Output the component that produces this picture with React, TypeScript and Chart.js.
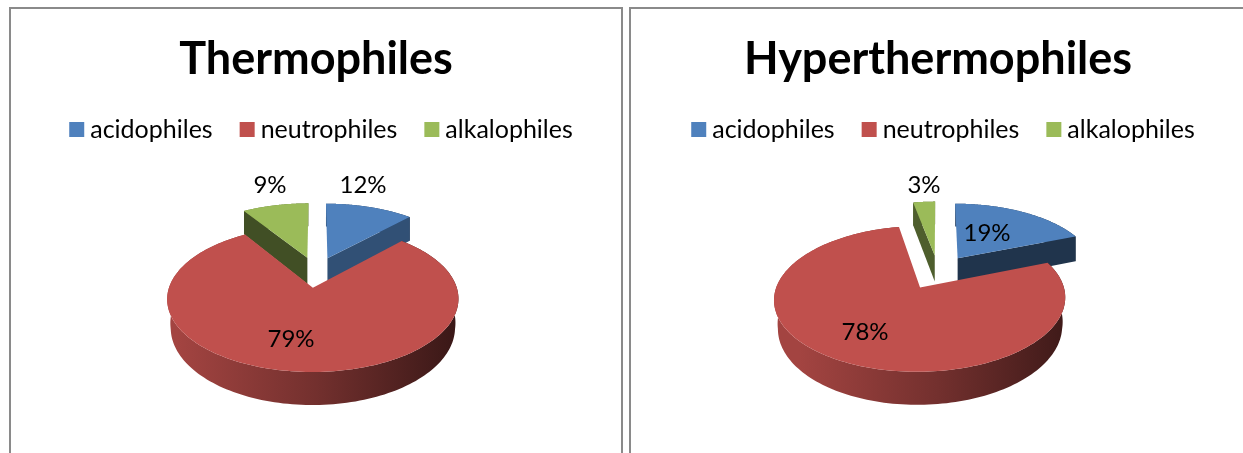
import React, { useEffect, useRef } from "react";
import { Chart, registerables } from "chart.js";

Chart.register(...registerables);

const categories = ["acidophiles", "neutrophiles", "alkalophiles"];
const thermophileShares = [12, 79, 9];
const hyperthermophileShares = [19, 78, 3];
const sliceColors = ["#4f81bd", "#c0504d", "#9bbb59"];

const FONT = "Lato, 'Open Sans', sans-serif";

// Look of the tilted pie: perspective strength, flattening and rim height.
const TILT = { perspective: 0.149, flatten: 0.478, depth: 27, rimNarrow: 0.06 };

type Panel = {
  title: string;
  values: number[];
  left: number;
  width: number;
  explode: number;
  cutShade: number[];
  labelAt: number[][];
};

const panels: Panel[] = [
  {
    title: "Thermophiles",
    values: thermophileShares,
    left: 6,
    width: 620,
    explode: 32,
    cutShade: [0.62, 0.5, 0.42],
    labelAt: [[357, 185], [285, 339], [264, 185]],
  },
  {
    title: "Hyperthermophiles",
    values: hyperthermophileShares,
    left: 633,
    width: 610,
    explode: 36,
    cutShade: [0.4, 0.5, 0.5],
    labelAt: [[354, 233], [232, 332], [291, 185]],
  },
];

function shade(hex: string, f: number) {
  const n = parseInt(hex.slice(1), 16);
  const c = [(n >> 16) & 255, (n >> 8) & 255, n & 255].map((v) => Math.round(v * f));
  return `rgb(${c[0]},${c[1]},${c[2]})`;
}

// Draws the doughnut controller's arc elements as an exploded pie seen from above.
function tiltedPie(panel: Panel) {
  return {
    id: "tiltedPie",
    beforeDatasetsDraw(chart: any) {
      const ctx = chart.ctx as CanvasRenderingContext2D;
      const arcs = chart.getDatasetMeta(0).data as any[];
      const { perspective, flatten, depth, rimNarrow } = TILT;
      const cx = arcs[0].x;
      const cy = arcs[0].y;
      const R = arcs[0].outerRadius;

      const project = (u: number, v: number, lower: boolean) => {
        const s = 1 / (1 - perspective * v);
        const x = cx + u * R * s;
        const y = cy + flatten * R * v * s;
        if (!lower) return [x, y];
        const narrow = 1 - rimNarrow * Math.min(Math.max(v, 0), 0.4);
        return [cx + (x - cx) * narrow, y + depth * s];
      };

      const slices = arcs.map((arc, i) => {
        const from = arc.startAngle + Math.PI / 2;
        const to = arc.endAngle + Math.PI / 2;
        const mid = (from + to) / 2;
        const e = (arc.options.offset || 0) / R;
        return { i, from, to, mid, ou: e * Math.sin(mid), ov: -e * Math.cos(mid) };
      });
      slices.sort((a, b) => Math.cos(b.mid) - Math.cos(a.mid));

      for (const s of slices) {
        const color = sliceColors[s.i];
        const hub = (lower: boolean) => project(s.ou, s.ov, lower);
        const rimAt = (a: number, lower: boolean) =>
          project(s.ou + Math.sin(a), s.ov - Math.cos(a), lower);

        const wall = (pts: number[][], fill: string | CanvasGradient) => {
          ctx.beginPath();
          pts.forEach((p, k) => (k ? ctx.lineTo(p[0], p[1]) : ctx.moveTo(p[0], p[1])));
          ctx.closePath();
          ctx.fillStyle = fill;
          ctx.fill();
        };

        const steps = 180;
        const along = (lower: boolean) => {
          const out: number[][] = [];
          for (let k = 0; k <= steps; k++) {
            out.push(rimAt(s.from + ((s.to - s.from) * k) / steps, lower));
          }
          return out;
        };

        // Outer rim, darkening from left to right.
        const grad = ctx.createLinearGradient(cx - R, 0, cx + R, 0);
        grad.addColorStop(0, shade(color, 0.85));
        grad.addColorStop(0.5, shade(color, 0.6));
        grad.addColorStop(1, shade(color, 0.3));
        wall([...along(false), ...along(true).reverse()], grad);

        // Radial cut faces that turn towards the viewer.
        const cut = shade(color, panel.cutShade[s.i]);
        if (Math.sin(s.from) < -1e-6) {
          wall([hub(false), rimAt(s.from, false), rimAt(s.from, true), hub(true)], cut);
        }
        if (Math.sin(s.to) > 1e-6) {
          wall([hub(false), rimAt(s.to, false), rimAt(s.to, true), hub(true)], cut);
        }

        // Top face.
        wall([hub(false), ...along(false)], color);
      }
      return false;
    },
    afterDraw(chart: any) {
      const ctx = chart.ctx as CanvasRenderingContext2D;
      ctx.save();
      ctx.fillStyle = "#000";
      ctx.textBaseline = "middle";

      // Percentage labels.
      ctx.font = `24px ${FONT}`;
      ctx.textAlign = "center";
      panel.values.forEach((v, i) => {
        ctx.fillText(`${v}%`, panel.labelAt[i][0], panel.labelAt[i][1]);
      });

      // Legend row.
      ctx.font = `25px ${FONT}`;
      ctx.textAlign = "left";
      const box = 15;
      const gap = 6;
      const between = 27;
      const widths = categories.map((c) => ctx.measureText(c).width);
      const total = widths.reduce((a, b) => a + b, 0) + categories.length * (box + gap) + between * (categories.length - 1);
      let x = chart.width / 2 + 5 - total / 2;
      categories.forEach((c, i) => {
        ctx.fillStyle = sliceColors[i];
        ctx.fillRect(x, 122, box, box);
        ctx.fillStyle = "#000";
        ctx.fillText(c, x + box + gap, 130);
        x += box + gap + widths[i] + between;
      });
      ctx.restore();
    },
  };
}

function PiePanel({ panel }: { panel: Panel }) {
  const ref = useRef<HTMLCanvasElement>(null);
  useEffect(() => {
    const chart = new Chart(ref.current!, {
      type: "pie",
      data: {
        labels: categories,
        datasets: [
          {
            data: panel.values,
            backgroundColor: sliceColors,
            borderWidth: 0,
            offset: panel.explode,
            radius: 139,
          } as any,
        ],
      },
      options: {
        responsive: false,
        animation: false,
        devicePixelRatio: 1,
        layout: { padding: 0 },
        plugins: {
          legend: { display: false },
          tooltip: { enabled: false },
          title: {
            display: true,
            text: panel.title,
            color: "#000",
            font: { family: FONT, size: 45, weight: "bold", lineHeight: 1.2 },
            padding: { top: 32, bottom: 5 },
          },
        },
      },
      plugins: [tiltedPie(panel)],
    });
    return () => chart.destroy();
  }, [panel]);
  return (
    <canvas
      ref={ref}
      width={panel.width}
      height={453}
      style={{ position: "absolute", left: panel.left, top: 0, width: panel.width, height: 453 }}
    />
  );
}

const frameEdge = "2px solid #8a8a8a";

export default function App() {
  useEffect(() => {
    document.body.style.margin = "0";
    document.body.style.background = "#fff";
    document.body.style.overflow = "hidden";
  }, []);
  return (
    <div style={{ position: "relative", width: 1243, height: 453, overflow: "hidden", background: "#fff" }}>
      <div
        style={{
          position: "absolute",
          left: 9,
          top: 7,
          width: 610,
          height: 460,
          borderLeft: frameEdge,
          borderTop: frameEdge,
          borderRight: frameEdge,
        }}
      />
      <div
        style={{
          position: "absolute",
          left: 629,
          top: 7,
          width: 620,
          height: 460,
          borderLeft: frameEdge,
          borderTop: frameEdge,
        }}
      />
      {panels.map((p) => (
        <PiePanel key={p.title} panel={p} />
      ))}
    </div>
  );
}
